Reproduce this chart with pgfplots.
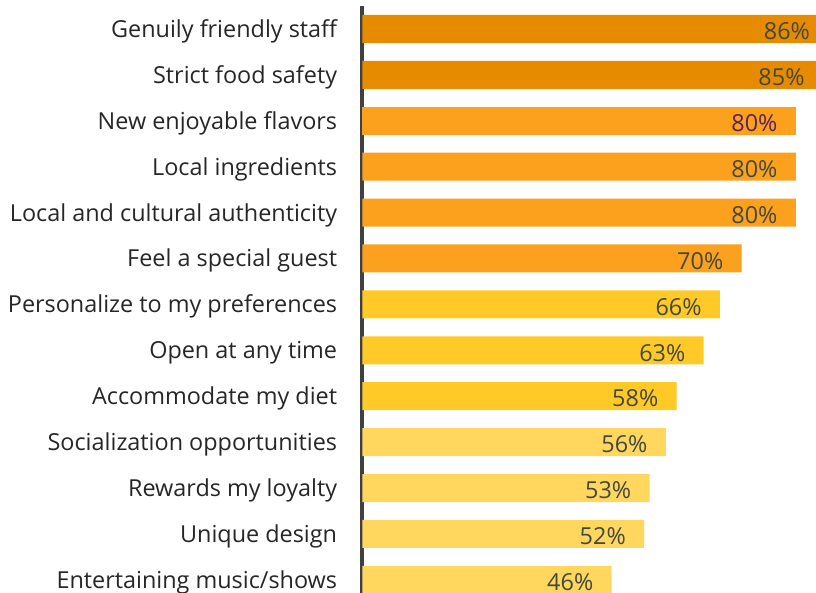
\documentclass[border=0pt]{standalone}
\usepackage{fontspec}
\setmainfont{Open Sans}
\usepackage{pgfplots}
\pgfplotsset{compat=1.18}

\definecolor{darkorange}{HTML}{E68A00}
\definecolor{midorange}{HTML}{FBA11E}
\definecolor{goldbar}{HTML}{FFCA28}
\definecolor{lightgold}{HTML}{FFD75F}
\definecolor{axisgray}{HTML}{404040}
\definecolor{valgray}{HTML}{43483E}
\definecolor{valpurple}{HTML}{5A1F5E}

\begin{document}
\begin{tikzpicture}
% page is 816x593 px, 1px = 0.5pt
\path[use as bounding box, clip] (0,0) rectangle (408pt,296.5pt);
\begin{axis}[
    at={(181.25pt,293.5pt)}, anchor=north west,
    scale only axis,
    width=227.5pt, height=298.4pt,
    xbar, bar shift=0pt, bar width=14pt,
    xmin=0, xmax=84,
    ymin=-0.5, ymax=12.5, y dir=reverse,
    axis x line=none,
    axis y line*=left,
    y axis line style={axisgray, line width=2pt, -},
    ytick={0,...,12},
    yticklabels={Genuily friendly staff, Strict food safety, New enjoyable flavors,
        Local ingredients, Local and cultural authenticity, Feel a special guest,
        Personalize to my preferences, Open at any time, Accommodate my diet,
        Socialization opportunities, Rewards my loyalty, Unique design,
        Entertaining music/shows},
    major tick length=0pt,
    yticklabel style={font=\fontsize{11.7}{13}\selectfont, text=black!85, inner sep=0pt,
        xshift=-12.5pt, yshift=-1.2pt},
    clip=false,
    point meta=x,
    /pgf/number format/assume math mode=true,
    nodes near coords={\pgfmathprintnumber{\pgfplotspointmeta}\%},
    every node near coord/.append style={anchor=east, xshift=-9pt, yshift=-1.2pt, inner sep=0pt,
        font=\fontsize{11.7}{13}\selectfont, text=valgray},
    ]
\addplot[draw=none, fill=darkorange] coordinates {(86,0) (85,1)};
\addplot[draw=none, fill=midorange, every node near coord/.append style={text=valpurple}] coordinates {(80,2)};
\addplot[draw=none, fill=midorange] coordinates {(80,3) (80,4) (70,5)};
\addplot[draw=none, fill=goldbar] coordinates {(66,6) (63,7) (58,8)};
\addplot[draw=none, fill=lightgold] coordinates {(56,9) (53,10) (52,11) (46,12)};
\end{axis}
\end{tikzpicture}
\end{document}
